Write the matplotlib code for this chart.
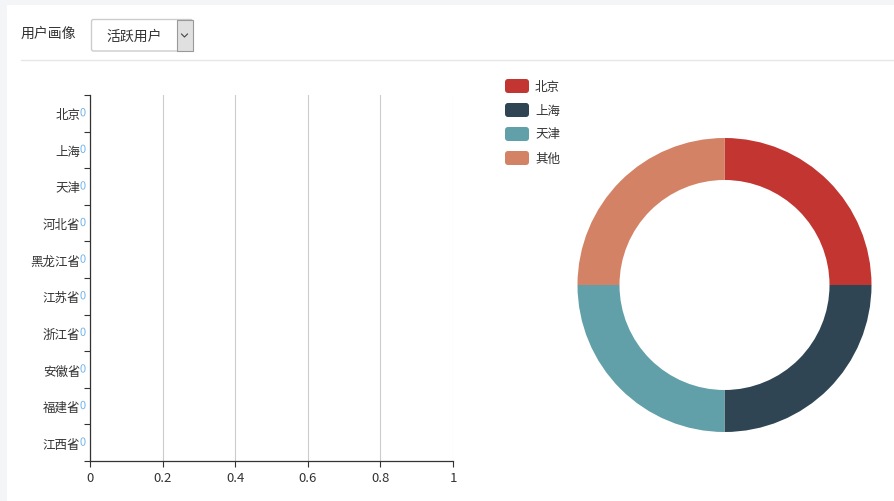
import matplotlib
matplotlib.use("Agg")
import matplotlib.pyplot as plt
import matplotlib.patheffects as pe
from matplotlib.patches import Rectangle, FancyBboxPatch

plt.rcParams['font.family'] = ['Noto Sans CJK SC', 'DejaVu Sans']

# data
provinces = ['北京', '上海', '天津', '河北省', '黑龙江省', '江苏省', '浙江省', '安徽省', '福建省', '江西省']
province_values = [0, 0, 0, 0, 0, 0, 0, 0, 0, 0]
x_ticks = [0, 0.2, 0.4, 0.6, 0.8, 1]
x_tick_labels = ['0', '0.2', '0.4', '0.6', '0.8', '1']
pie_labels = ['北京', '上海', '天津', '其他']
pie_shares = [25, 25, 25, 25]  # all zero in the source, so the ring is split evenly
pie_colors = ['#c23531', '#2f4554', '#61a0a8', '#d48265']
filter_label = '用户画像'
filter_value = '活跃用户'

W, H = 894, 502
fig = plt.figure(figsize=(W / 100, H / 100), dpi=100)


def box(x0, y0, x1, y1):
    # pixel box (top-left origin) -> figure fractions
    return [x0 / W, 1 - y1 / H, (x1 - x0) / W, (y1 - y0) / H]


# page background / header, in pixel coords
bg = fig.add_axes([0, 0, 1, 1], zorder=0)
bg.set_xlim(0, W)
bg.set_ylim(H, 0)
bg.axis('off')
bg.add_patch(Rectangle((0, 0), W, 6, color='#f4f5f7', lw=0))
bg.add_patch(Rectangle((0, 0), 7, H, color='#f4f5f7', lw=0))
bg.plot([21, W], [61, 61], color='#e6e6e6', lw=1)
bg.text(21, 34, filter_label, fontsize=10, color='#333333', va='center', ha='left')
bg.add_patch(FancyBboxPatch((91.5, 20.5), 101, 31.5, boxstyle='round,pad=0,rounding_size=2',
                            fc='white', ec='#cccccc', lw=1))
bg.add_patch(Rectangle((176.5, 21), 16, 30.5, fc='#e0e0e0', ec='#999999', lw=0.8))
bg.plot([181.5, 184.5, 187.5], [35, 38, 35], color='#444444', lw=0.8)
bg.text(134, 37, filter_value, fontsize=10, color='#333333', va='center', ha='center')

# legend for the ring chart
for i, (name, c) in enumerate(zip(pie_labels, pie_colors)):
    yc = 87 + i * 24
    bg.add_patch(FancyBboxPatch((505, yc - 7), 24, 14, boxstyle='round,pad=0,rounding_size=3',
                                fc=c, ec='none'))
    bg.text(535, yc, name, fontsize=9, color='#333333', va='center', ha='left')

# bar chart
ax = fig.add_axes(box(90, 96, 453, 462), zorder=1)
ax.patch.set_alpha(0)
ypos = list(range(len(provinces)))
ax.barh(ypos, province_values, color='#7cb5ec', height=0.6)
for y, v in zip(ypos, province_values):
    ax.annotate(str(v), (v, y), xytext=(-7, 0), textcoords='offset pixels',
                ha='center', va='center', fontsize=8, color='#6fb2ea',
                path_effects=[pe.withStroke(linewidth=1.5, foreground='white')], zorder=5)
ax.set_xlim(0, 1)
ax.set_ylim(len(provinces) - 0.5, -0.5)
ax.set_xticks(x_ticks)
ax.set_xticklabels(x_tick_labels)
ax.set_yticks([i - 0.5 for i in range(len(provinces) + 1)])
ax.set_yticklabels([])
ax.set_yticks(ypos, minor=True)
ax.set_yticklabels(provinces, minor=True)
ax.tick_params(axis='y', which='major', length=4, width=0.8, color='#333333', direction='out')
ax.tick_params(axis='y', which='minor', length=0, pad=7, labelsize=9, labelcolor='#333333')
ax.tick_params(axis='x', length=4, width=0.8, color='#333333', labelsize=9.5,
               labelcolor='#333333', pad=3)
ax.grid(axis='x', color='#cccccc', lw=0.8)
ax.set_axisbelow(True)
for s in ['top', 'right']:
    ax.spines[s].set_visible(False)
for s in ['left', 'bottom']:
    ax.spines[s].set_color('#333333')
    ax.spines[s].set_linewidth(0.9)

# ring chart
pax = fig.add_axes(box(724.5 - 147, 286 - 147, 724.5 + 147, 286 + 147), zorder=1)
pax.pie(pie_shares, colors=pie_colors, startangle=90, counterclock=False,
        wedgeprops=dict(width=42 / 147, edgecolor='none'))
pax.set_xlim(-1, 1)
pax.set_ylim(-1, 1)
pax.set_aspect('equal')
pax.axis('off')

fig.savefig('out.png', dpi=100)
